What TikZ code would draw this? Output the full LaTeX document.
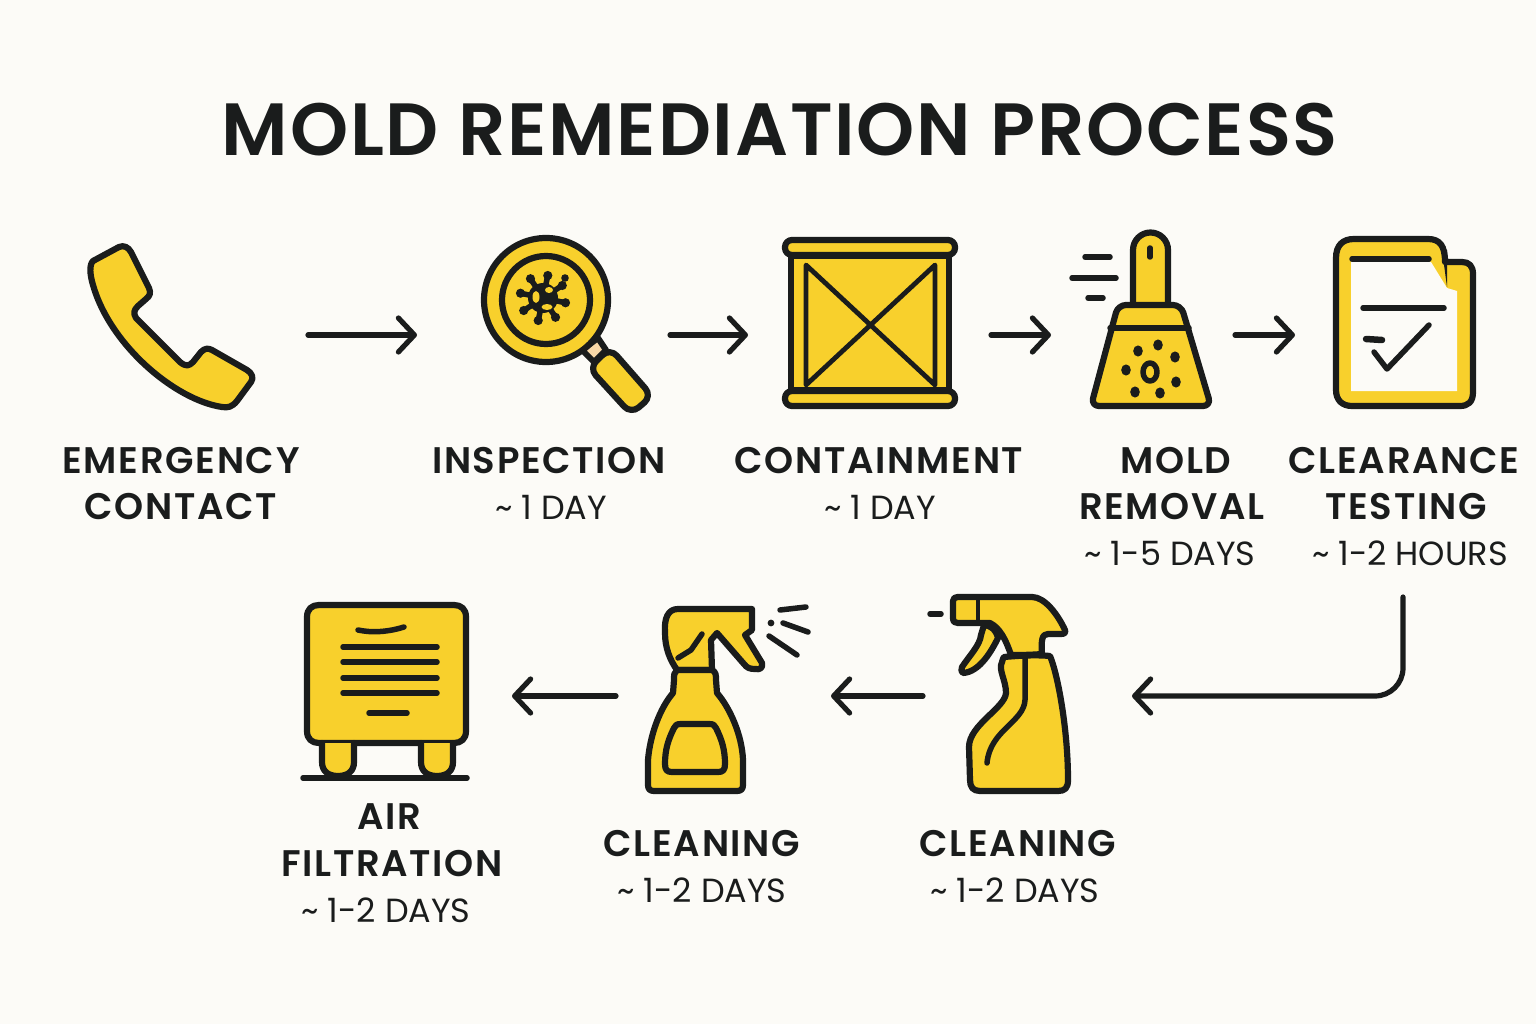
\documentclass[tikz,border=0pt]{standalone}
\usepackage{xcolor}
\usepackage{fontspec}
\setmainfont{Poppins}
\newfontfamily\titlefont{Poppins SemiBold}[LetterSpace=2.4]
\newfontfamily\stepfont{Poppins SemiBold}[LetterSpace=4.6]
\usetikzlibrary{arrows.meta}
\definecolor{paper}{HTML}{FCFBF7}
\definecolor{ink}{HTML}{1A1C1C}
\definecolor{mold}{HTML}{F8D02C}
\definecolor{neck}{HTML}{F8D8A8}
\tikzset{
	icon/.style={draw=ink,fill=mold,line width=6.2pt,line join=round,line cap=round},
	stroke/.style={draw=ink,line width=5.5pt,line cap=round,line join=round},
	thin stroke/.style={draw=ink,line width=4.8pt,line cap=round,line join=round},
	flow/.style={draw=ink,line width=5.2pt,line cap=round,-{Straight Barb[length=16pt,width=34pt,round]}},
	steplabel/.style={text=ink,font=\fontsize{37}{37}\stepfont,inner sep=0pt},
	timelabel/.style={text=ink,font=\fontsize{33.5}{33.5}\selectfont,inner sep=0pt}
}
\begin{document}
\begin{tikzpicture}[x=1pt,y=-1pt]
	\useasboundingbox[fill=paper] (0,0) rectangle (1536,1024);

	\node[text=ink,font=\fontsize{74}{74}\titlefont,inner sep=0pt] (title) at (780,130) {MOLD REMEDIATION PROCESS};

	\draw[icon] (119,247) .. controls (124,245) and (128,247) .. (131,252) -- (149,288) .. controls (151,293) and (150,296) .. (146,299) -- (138,306) .. controls (134,310) and (133,313) .. (136,318) -- (180,362) .. controls (186,367) and (189,366) .. (193,362) -- (201,352) .. controls (205,348) and (208,348) .. (212,350) -- (247,370) .. controls (252,373) and (254,378) .. (251,382) -- (237,401) .. controls (232,407) and (228,408) .. (222,407) .. controls (175,400) and (110,345) .. (93,285) .. controls (90,275) and (89,265) .. (93,261) -- cycle;

	\fill[neck,draw=ink,line width=6pt,line join=round] (582,350) -- (598,338) -- (606,350) -- (594,362) -- cycle;
	\draw[icon] (546,300) circle (62);
	\draw[icon] (546,300) circle (44);
	\draw[icon,rounded corners=10pt] (589,368) -- (610,348) -- (652,396) -- (631,414) -- cycle;
	\fill[ink] (543,298) circle (15);
	\foreach \a in {0,45,...,315} {
		\draw[stroke] (543,298) -- ++(\a+12:21);
		\fill[ink] (543,298) ++(\a+12:23) circle (4.6);
	}
	\fill[ink] (565,278) circle (3.8);
	\fill[mold] (536,297) ellipse (3.5 and 6);
	\fill[mold] (547,307) ellipse (5.5 and 3);
	\fill[mold] (549,290) ellipse (4 and 3);

	\draw[icon] (791,256) rectangle (949,390);
	\draw[thin stroke] (806,265) -- (806,385) -- (935,265) -- (935,385) -- cycle;
	\draw[icon,rounded corners=7pt] (785,240) rectangle (955,255);
	\draw[icon,rounded corners=7pt] (785,391) rectangle (955,406);

	\draw[icon] (1133,305) -- (1133,250) arc (180:360:17.5) -- (1168,305);
	\draw[stroke] (1150,248) -- (1150,257);
	\draw[icon,rounded corners=8pt] (1118,305) -- (1181,305) -- (1211,406) -- (1091,406) -- cycle;
	\draw[stroke] (1110,328) -- (1189,328);
	\draw[icon,line width=5.5pt] (1150,372) ellipse (7 and 9);
	\foreach \px/\py in {1138/351,1158/345,1175/357,1126/370,1176/382,1135/392,1160/393}
		\fill[ink] (\px,\py) ellipse (4.8 and 5.6);
	\draw[stroke] (1085,257) -- (1110,257);
	\draw[stroke] (1072,278) -- (1116,278);
	\draw[stroke] (1088,298) -- (1103,298);

	\draw[icon,fill=mold] (1336,258) .. controls (1336,245) and (1343,239) .. (1354,239) -- (1428,239) .. controls (1440,239) and (1445,246) .. (1445,262) -- (1462,262) .. controls (1469,262) and (1473,266) .. (1473,274) -- (1473,392) .. controls (1473,402) and (1468,406) .. (1460,406) -- (1352,406) .. controls (1342,406) and (1336,400) .. (1336,390) -- cycle;
	\fill[paper] (1351,262) -- (1431,262) -- (1447,288) -- (1457,291) -- (1457,391) -- (1351,391) -- cycle;
	\fill[ink] (1442,250) -- (1447,250) -- (1447,287) -- cycle;
	\draw[stroke] (1352,259) -- (1429,259);
	\draw[stroke] (1363,308) -- (1444,308);
	\draw[stroke,line width=6.5pt] (1366,339) -- (1382,340);
	\draw[stroke] (1374,352) -- (1387,369) -- (1429,325);

	\draw[icon] (307,617) .. controls (307,609) and (312,605) .. (319,605) -- (454,605) .. controls (461,605) and (466,609) .. (466,617) -- (466,731) .. controls (466,739) and (461,743) .. (454,743) -- (319,743) .. controls (312,743) and (307,739) .. (307,731) -- cycle;
	\draw[stroke] (358,630) .. controls (372,633) and (388,632) .. (404,627);
	\foreach \ly in {647,662,678,693}
		\draw[stroke] (343,\ly) -- (437,\ly);
	\draw[stroke] (369,713) -- (407,713);
	\draw[icon] (322,743) -- (322,762) .. controls (322,771) and (328,776) .. (338,776) .. controls (348,776) and (354,771) .. (354,762) -- (354,743);
	\draw[icon] (421,743) -- (421,762) .. controls (421,771) and (427,776) .. (437,776) .. controls (447,776) and (453,771) .. (453,762) -- (453,743);
	\draw[stroke] (303,778) -- (467,778);

	\draw[icon] (678,609) -- (752,609) -- (752,630) -- (745,635) -- (762,663) .. controls (763,668) and (760,670) .. (755,669) .. controls (750,669) and (747,668) .. (744,664) -- (717,633) -- (711,640) -- (712,670) -- (677,670) .. controls (670,660) and (665,648) .. (665,633) .. controls (664,618) and (668,609) .. (678,609) -- cycle;
	\draw[stroke] (702,634) -- (691,650) -- (678,658);
	\draw[icon] (677,670) -- (712,670) .. controls (716,672) and (716,675) .. (716,680) -- (717,693) .. controls (730,708) and (742,735) .. (743,760) -- (743,785) .. controls (743,789) and (741,791) .. (737,791) -- (654,791) .. controls (650,791) and (648,789) .. (648,785) -- (648,760) .. controls (650,735) and (660,708) .. (673,693) -- (674,680) .. controls (674,675) and (674,672) .. (677,670) -- cycle;
	\draw[icon] (681,724) -- (709,724) .. controls (713,724) and (715,725) .. (716,728) .. controls (722,740) and (725,750) .. (725,764) .. controls (725,770) and (723,772) .. (718,772) -- (672,772) .. controls (667,772) and (665,770) .. (665,764) .. controls (665,750) and (668,740) .. (674,728) .. controls (675,725) and (677,724) .. (681,724) -- cycle;
	\draw[stroke] (780,610) -- (806,607);
	\fill[ink] (771,623) circle (3.4);
	\draw[stroke] (783,623) -- (808,632);
	\draw[stroke] (769,636) -- (797,655);

	\draw[icon] (1004,657) .. controls (1026,655) and (1040,655) .. (1050,656) .. controls (1058,675) and (1068,730) .. (1068,780) .. controls (1068,788) and (1065,791) .. (1058,791) -- (980,791) .. controls (973,791) and (970,787) .. (970,780) -- (969,747) .. controls (969,725) and (1005,708) .. (1006,693) .. controls (1006,680) and (998,670) .. (1002,662) .. controls (1003,659) and (1003,658) .. (1004,657) -- cycle;
	\draw[stroke] (1025,658) -- (1025,700) .. controls (1024,722) and (990,730) .. (987,763);
	\draw[icon] (984,625) .. controls (992,626) and (996,630) .. (998,638) .. controls (992,650) and (980,672) .. (963,673) .. controls (961,672) and (961,670) .. (962,667) .. controls (970,655) and (980,645) .. (981,635) -- cycle;
	\draw[icon] (958,597) -- (1032,597) .. controls (1045,597) and (1058,615) .. (1065,630) .. controls (1066,633) and (1064,634) .. (1061,634) -- (1048,634) .. controls (1042,634) and (1041,640) .. (1042,654) .. controls (1030,655) and (1020,655) .. (1011,655) .. controls (1006,640) and (1000,628) .. (990,623) -- (958,623) .. controls (955,623) and (953,622) .. (953,618) -- (953,601) .. controls (953,598) and (955,597) .. (958,597) -- cycle;
	\draw[thin stroke] (978,598) -- (978,622);
	\draw[stroke] (930,614) -- (941,614);

	\coordinate (contact out) at (308,335);
	\coordinate (inspection in) at (417,335);
	\coordinate (inspection out) at (670,335);
	\coordinate (containment in) at (748,335);
	\coordinate (containment out) at (991,335);
	\coordinate (removal in) at (1051,335);
	\coordinate (removal out) at (1235,335);
	\coordinate (testing in) at (1295,335);
	\coordinate (testing out) at (1403,597);
	\coordinate (testing bend) at (1403,696);
	\coordinate (clean b in) at (1132,696);
	\coordinate (clean b out) at (923,696);
	\coordinate (clean a in) at (831,696);
	\coordinate (clean a out) at (616,696);
	\coordinate (filter in) at (512,696);
	\draw[flow] (contact out) -- (inspection in);
	\draw[flow] (inspection out) -- (containment in);
	\draw[flow] (containment out) -- (removal in);
	\draw[flow] (removal out) -- (testing in);
	\draw[flow,rounded corners=28pt] (testing out) -- (testing bend) -- (clean b in);
	\draw[flow] (clean b out) -- (clean a in);
	\draw[flow] (clean a out) -- (filter in);

	\node[steplabel] (emergency) at (181,461) {EMERGENCY};
	\node[steplabel] (contact) at (181,507) {CONTACT};
	\node[steplabel] (inspection) at (549,461) {INSPECTION};
	\node[timelabel] (inspection time) at (551,507) {\textasciitilde{} 1 DAY};
	\node[steplabel] (containment) at (879,461) {CONTAINMENT};
	\node[timelabel] (containment time) at (880,507) {\textasciitilde{} 1 DAY};
	\node[steplabel] (mold) at (1176,461) {MOLD};
	\node[steplabel] (removal) at (1172,507) {REMOVAL};
	\node[timelabel] (removal time) at (1170,553) {\textasciitilde{} 1-5 DAYS};
	\node[steplabel] (clearance) at (1404,461) {CLEARANCE};
	\node[steplabel] (testing) at (1406,507) {TESTING};
	\node[timelabel] (testing time) at (1410,553) {\textasciitilde{} 1-2 HOURS};
	\node[steplabel] (air) at (389,817) {AIR};
	\node[steplabel] (filtration) at (392,864) {FILTRATION};
	\node[timelabel] (filtration time) at (386,910) {\textasciitilde{} 1-2 DAYS};
	\node[steplabel] (clean a) at (702,844) {CLEANING};
	\node[timelabel] (clean a time) at (702,890) {\textasciitilde{} 1-2 DAYS};
	\node[steplabel] (clean b) at (1018,844) {CLEANING};
	\node[timelabel] (clean b time) at (1015,890) {\textasciitilde{} 1-2 DAYS};
\end{tikzpicture}
\end{document}
